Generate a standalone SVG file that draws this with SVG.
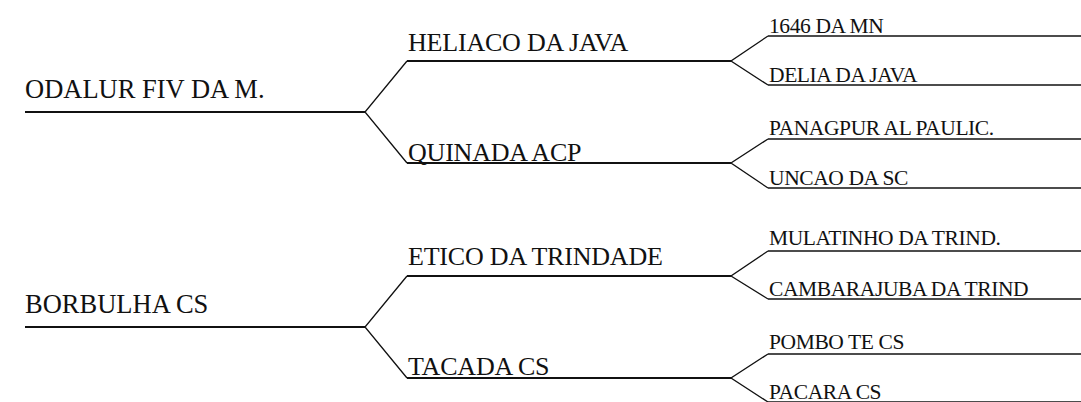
<svg xmlns="http://www.w3.org/2000/svg" width="1081" height="402" viewBox="0 0 1081 402">
<style>
text{font-family:"Liberation Serif","Times New Roman",serif;fill:#111}
.g1{font-size:26.5px}
.g2{font-size:26px;letter-spacing:-0.2px}
.g3{font-size:21.5px;letter-spacing:-0.4px}
.h{stroke:#111;stroke-width:2;fill:none}
.h3{stroke:#111;stroke-width:1.5;fill:none}
.d{stroke:#111;stroke-width:1.3;fill:none}
</style>
<rect width="1081" height="402" fill="#fff"/>
<g id="connectors">
<path class="d" d="M407,61 L365,112 L407,163"/>
<path class="d" d="M768,36 L731,61 L768,85"/>
<path class="d" d="M768,139 L731,163 L768,188"/>
<path class="d" d="M407,276 L365,327 L407,378"/>
<path class="d" d="M768,251 L731,276 L768,299"/>
<path class="d" d="M768,354 L731,378 L768,402"/>
</g>
<g id="n-odalur"><line class="h" x1="25" y1="112" x2="365" y2="112"/><text class="g1" x="25" y="98">ODALUR FIV DA M.</text></g>
<g id="n-heliaco"><line class="h" x1="407" y1="61" x2="731" y2="61"/><text class="g2" x="408" y="51">HELIACO DA JAVA</text></g>
<g id="n-quinada"><line class="h" x1="407" y1="163" x2="731" y2="163"/><text class="g2" x="408" y="161">QUINADA ACP</text></g>
<g id="n-1646"><line class="h3" x1="768" y1="36" x2="1081" y2="36"/><text class="g3" x="769" y="33">1646 DA MN</text></g>
<g id="n-delia"><line class="h3" x1="768" y1="85" x2="1081" y2="85"/><text class="g3" x="769" y="82">DELIA DA JAVA</text></g>
<g id="n-panagpur"><line class="h3" x1="768" y1="139" x2="1081" y2="139"/><text class="g3" x="769" y="135">PANAGPUR AL PAULIC.</text></g>
<g id="n-uncao"><line class="h3" x1="768" y1="188" x2="1081" y2="188"/><text class="g3" x="769" y="185">UNCAO DA SC</text></g>
<g id="n-borbulha"><line class="h" x1="25" y1="327" x2="365" y2="327"/><text class="g1" x="25" y="313">BORBULHA CS</text></g>
<g id="n-etico"><line class="h" x1="407" y1="276" x2="731" y2="276"/><text class="g2" x="408" y="265">ETICO DA TRINDADE</text></g>
<g id="n-tacada"><line class="h" x1="407" y1="378" x2="731" y2="378"/><text class="g2" x="408" y="375">TACADA CS</text></g>
<g id="n-mulatinho"><line class="h3" x1="768" y1="251" x2="1081" y2="251"/><text class="g3" x="769" y="245">MULATINHO DA TRIND.</text></g>
<g id="n-cambarajuba"><line class="h3" x1="768" y1="299" x2="1081" y2="299"/><text class="g3" x="769" y="296">CAMBARAJUBA DA TRIND</text></g>
<g id="n-pombo"><line class="h3" x1="768" y1="354" x2="1081" y2="354"/><text class="g3" x="769" y="349">POMBO TE CS</text></g>
<g id="n-pacara"><line class="h3" x1="768" y1="402" x2="1081" y2="402"/><text class="g3" x="769" y="399">PACARA CS</text></g>
</svg>
